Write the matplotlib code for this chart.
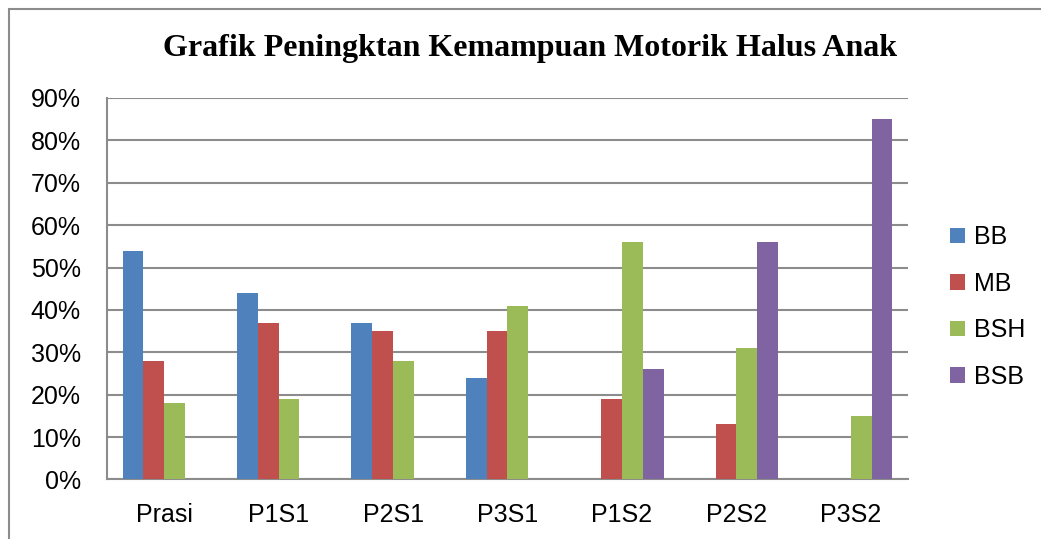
import matplotlib
matplotlib.use('Agg')
import matplotlib.pyplot as plt
import matplotlib.patches as patches
import numpy as np

# data
categories = ['Prasi', 'P1S1', 'P2S1', 'P3S1', 'P1S2', 'P2S2', 'P3S2']
series_names = ['BB', 'MB', 'BSH', 'BSB']
bb = [54, 44, 37, 24, 0, 0, 0]
mb = [28, 37, 35, 35, 19, 13, 0]
bsh = [18, 19, 28, 41, 56, 31, 15]
bsb = [0, 0, 0, 0, 26, 56, 85]
yticks = [0, 10, 20, 30, 40, 50, 60, 70, 80, 90]

colors = ['#4F81BD', '#C0504D', '#9BBB59', '#8064A2']

fig = plt.figure(figsize=(10.41, 5.39), dpi=100)
ax = fig.add_axes([0.1028, 0.1104, 0.7694, 0.7078])

# outer chart frame (cut off at right and bottom like the original)
frame = patches.Rectangle((9 / 1041, -0.1), 1.2, 0.9824 + 0.1, transform=fig.transFigure,
                          fill=False, edgecolor='#8c8c8c', linewidth=1.5, zorder=0)
fig.add_artist(frame)

x = np.arange(len(categories))
bar_w = 1 / 5.5
all_series = [bb, mb, bsh, bsb]
for i, (name, vals) in enumerate(zip(series_names, all_series)):
    offs = (i - 1.5) * bar_w
    ax.bar(x + offs, vals, width=bar_w, color=colors[i], edgecolor='none',
           label=name, zorder=3)

ax.set_xlim(-0.5, len(categories) - 0.5)
ax.set_ylim(0, 90)
ax.set_yticks(yticks)
ax.set_yticklabels([f'{v}%' for v in yticks], fontsize=18, family='Liberation Sans')
ax.set_xticks(x)
ax.set_xticklabels(categories, fontsize=18, family='Liberation Sans')
ax.tick_params(axis='y', length=0, pad=19)
ax.tick_params(axis='x', length=0, pad=17)

ax.yaxis.grid(True, color='#8c8c8c', linewidth=1.5, zorder=1)
ax.set_axisbelow(True)
for s in ['top', 'right']:
    ax.spines[s].set_visible(False)
for s in ['left', 'bottom']:
    ax.spines[s].set_color('#8c8c8c')
    ax.spines[s].set_linewidth(1.5)

fig.text(0.509, 0.910, 'Grafik Peningktan Kemampuan Motorik Halus Anak',
         ha='center', va='center', fontsize=23, fontweight='bold', family='Liberation Serif')

ax.legend(loc='center left', bbox_to_anchor=(950 / 1041, 0.4304), bbox_transform=fig.transFigure,
          frameon=False, prop={'family': 'Liberation Sans', 'size': 18},
          handlelength=0.6, handleheight=0.6, handletextpad=0.35, labelspacing=0.9,
          borderpad=0, borderaxespad=0)

fig.savefig('out.png', dpi=100)
